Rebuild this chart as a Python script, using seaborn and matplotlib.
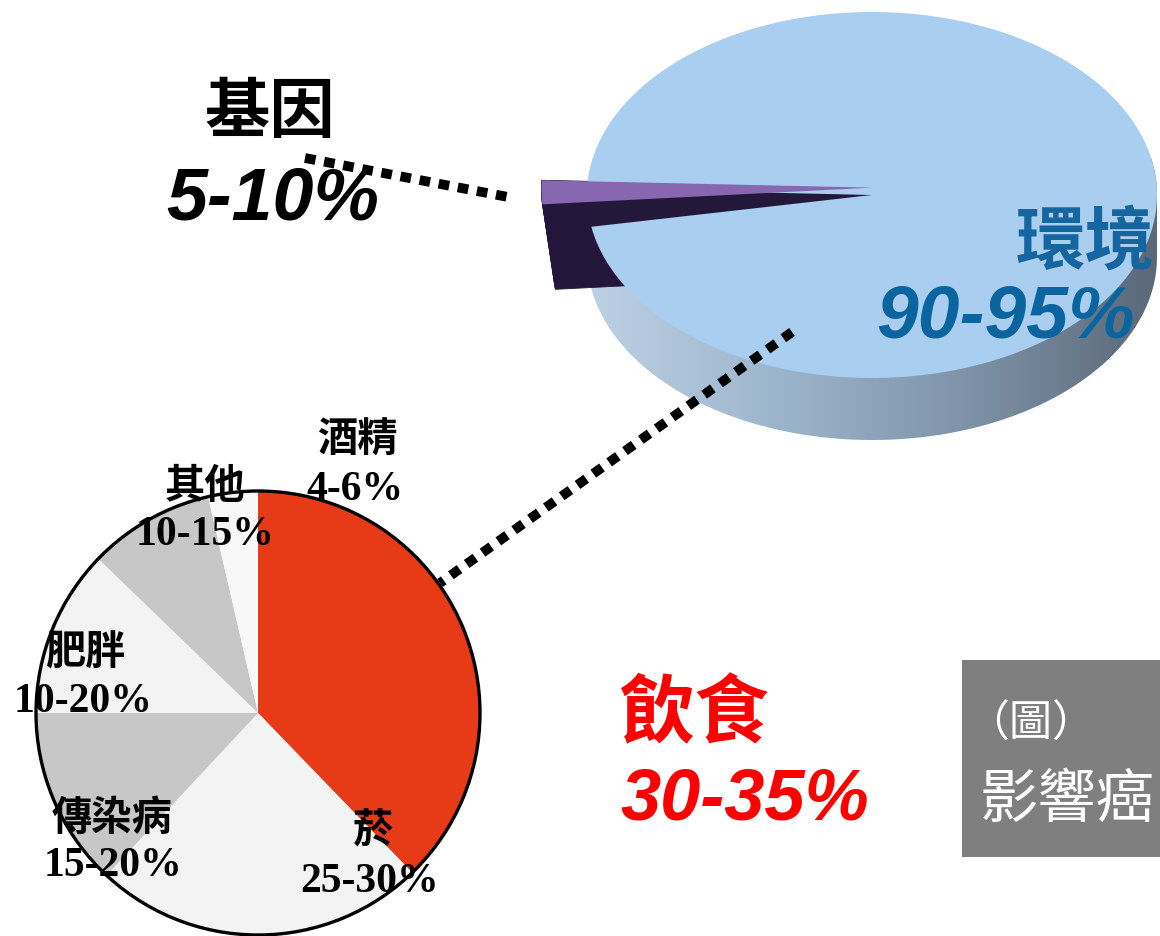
import numpy as np
import matplotlib
matplotlib.use('Agg')
import matplotlib.pyplot as plt
from matplotlib.patches import Polygon, Rectangle
import seaborn as sns

# --- data ---
big_labels = ['基因', '環境']
big_ranges = ['5-10%', '90-95%']
gene_wedge_deg = 6.5      # lifted purple sliver (degrees)
gene_cavity_deg = 12      # hole it leaves in the big pie (degrees)

diet_labels = ['菸', '飲食', '傳染病', '肥胖', '其他', '酒精']
diet_ranges = ['25-30%', '30-35%', '15-20%', '10-20%', '10-15%', '4-6%']
diet_deg = [136, 87, 47, 44, 33, 13]
diet_colors = ['#E73B18', '#F3F3F3', '#C7C7C7', '#F3F3F3', '#C7C7C7', '#F8F8F8']

caption = ['（圖）', '影響癌']

sns.set_theme(style='white')
CJK = ['Noto Sans CJK TC', 'DejaVu Sans']
plt.rcParams['font.family'] = CJK

W, H = 1160, 936
fig = plt.figure(figsize=(W / 100, H / 100), dpi=100)
fig.patch.set_facecolor('white')

# --- big 3d pie: ellipse made by a squashed axes ---
cx, cy, rx, ry = 872, 195, 285, 183
depth = 62 / ry
axb = fig.add_axes([0, 0, 1, 1])
axb.set_facecolor('none')
axb.axis('off')

t1 = np.linspace(np.pi, 2 * np.pi, 200)
t2 = np.linspace(0, np.pi, 200)
side = np.vstack([np.c_[np.cos(t1), np.sin(t1) - depth], np.c_[np.cos(t2), np.sin(t2)]])
side_patch = Polygon(side, closed=True, fc='none', ec='none')
axb.add_patch(side_patch)
side_cmap = sns.blend_palette(['#BDD1E5', '#9DB5CC', '#7E93A8', '#5A6878'], as_cmap=True)
grad = np.linspace(0, 1, 256)[None, :]
im = axb.imshow(grad, extent=(-1, 1, -1 - depth, 0.2), cmap=side_cmap, aspect='auto', zorder=1)
im.set_clip_path(side_patch)

# extruded dark side of the lifted gene wedge
lift = 0.04
drop = 85 / ry
for k in np.linspace(0, drop, 45):
    axb.pie([gene_wedge_deg / 360], normalize=False, startangle=178, radius=1.16,
            center=(0.045 * k / drop, lift - k), colors=['#23163A'],
            wedgeprops=dict(linewidth=0.6, edgecolor='#23163A', zorder=2))

# top face (environment) with the cavity
axb.pie([gene_cavity_deg, 360 - gene_cavity_deg], startangle=178,
        colors=['#24183A', '#A9CEEF'], wedgeprops=dict(linewidth=0, zorder=3))
# purple top of the gene wedge
axb.pie([gene_wedge_deg / 360], normalize=False, startangle=178, radius=1.16,
        center=(0, lift), colors=['#8667B0'], wedgeprops=dict(linewidth=0, zorder=4))
axb.set_aspect('auto')
axb.set_xlim(-cx / rx, (W - cx) / rx)
axb.set_ylim((cy - H) / ry, cy / ry)

# --- overlay in pixel units (y measured up) ---
ax = fig.add_axes([0, 0, 1, 1])
ax.set_facecolor('none')

pcx, pcy, pr = 258, 713, 222
ax.pie(diet_deg, startangle=90, counterclock=False, colors=diet_colors,
       center=(pcx, H - pcy), radius=pr, wedgeprops=dict(linewidth=0))
ax.pie([1], colors=['none'], center=(pcx, H - pcy), radius=pr,
       wedgeprops=dict(edgecolor='black', linewidth=2.4, fill=False))

# dotted connectors
dots = dict(color='black', lw=7, ls=(0, (1.1, 0.9)), dash_capstyle='butt')
ax.plot([305, 508], [H - 158, H - 197], **dots)
ax.plot([792, 440], [H - 332, H - 583], **dots)

# grey caption box
ax.add_patch(Rectangle((962, H - 857), 260, 197, color='#7F7F7F', lw=0))

ax.axis('off')
ax.set_aspect('auto')
ax.set_xlim(0, W)
ax.set_ylim(0, H)


def txt(x, y, s, size, color='black', ha='center', family=CJK, weight='bold', style='normal'):
    ax.text(x, H - y, s, fontsize=size, color=color, ha=ha, va='center',
            family=family, weight=weight, style=style)


NUM = ['Liberation Sans', 'DejaVu Sans']
SERIF = ['Liberation Serif', 'DejaVu Serif']

# big pie labels
txt(270, 113, big_labels[0], 47)
txt(273, 200, big_ranges[0], 53, family=NUM, style='italic')
txt(1016, 243, big_labels[1], 50, color='#1565A0', ha='left')
txt(876, 318, big_ranges[1], 54, color='#0A64A0', ha='left', family=NUM, style='italic')

# diet (red) label
txt(620, 715, diet_labels[1], 54, color='#FF0000', ha='left')
txt(620, 800, diet_ranges[1], 52, color='#FF0000', ha='left', family=NUM, style='italic')

# small pie labels
pos = {
    '菸': ((373, 830), (370, 882)),
    '傳染病': ((112, 818), (113, 866)),
    '肥胖': ((85, 653), (83, 702)),
    '其他': ((205, 487), (205, 535)),
    '酒精': ((357, 440), (355, 490)),
}
for lab, rng in zip(diet_labels, diet_ranges):
    if lab not in pos:
        continue
    (lx, ly), (nx, ny) = pos[lab]
    txt(lx, ly, lab, 29)
    txt(nx, ny, rng, 30, family=SERIF)

# caption
txt(966, 725, caption[0], 31, color='white', ha='left', weight='normal')
txt(980, 800, caption[1], 42, color='white', ha='left', weight='normal')

fig.savefig('out.png', dpi=100, facecolor='white')
